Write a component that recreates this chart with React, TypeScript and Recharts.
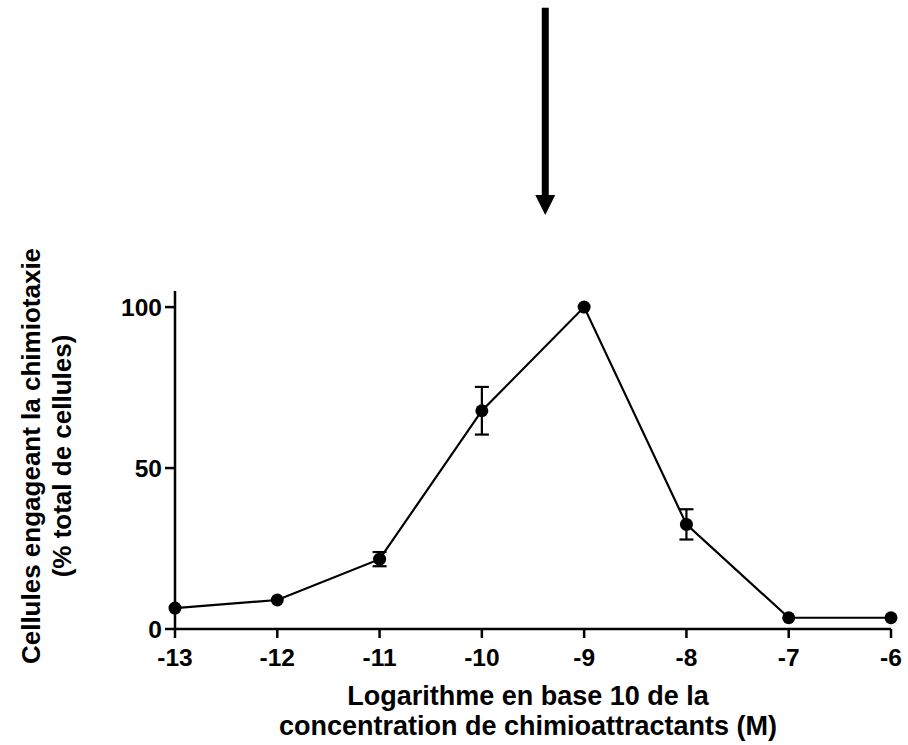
import { LineChart, Line, XAxis, YAxis, ErrorBar, ReferenceLine } from "recharts";

// log10 of chemoattractant concentration (M)
const concentrations = [-13, -12, -11, -10, -9, -8, -7, -6];
// % of cells engaging chemotaxis
const responses = [6.5, 9, 21.7, 67.8, 100, 32.5, 3.5, 3.5];
const errors: (number | null)[] = [null, null, 2.2, 7.4, null, 4.7, null, null];
const yTicks = [0, 50, 100];

const arrowX = -9.38;
const arrowTop = 193;
const arrowTip = 128.6;

const data = concentrations.map((c, i) => ({
  logC: c,
  pct: responses[i],
  err: errors[i],
}));

const FONT = "'Liberation Sans', Arial, sans-serif";

const XLabel = ({ viewBox }: any) => {
  const cx = viewBox.x + viewBox.width / 2 - 5;
  return (
    <g fontFamily={FONT} fontWeight="bold" fontSize={27} fill="#000">
      <text x={cx} y={viewBox.y + 76} textAnchor="middle">
        Logarithme en base 10 de la
      </text>
      <text x={cx} y={viewBox.y + 106} textAnchor="middle">
        concentration de chimioattractants (M)
      </text>
    </g>
  );
};

const YLabel = ({ viewBox }: any) => {
  const cy = viewBox.y + viewBox.height / 2 - 4;
  return (
    <g fontFamily={FONT} fontWeight="bold" fontSize={26} fill="#000">
      <text x={40} y={cy} textAnchor="middle" transform={`rotate(-90, 40, ${cy})`}>
        Cellules engageant la chimiotaxie
      </text>
      <text x={71} y={cy} textAnchor="middle" transform={`rotate(-90, 71, ${cy})`}>
        (% total de cellules)
      </text>
    </g>
  );
};

const Arrow = (props: any) => {
  const { x1, y1, y2 } = props;
  const head = 20;
  return (
    <g>
      <rect x={x1 - 3.5} y={y1} width={7} height={y2 - y1 - head + 1} fill="#000" />
      <polygon points={`${x1 - 10},${y2 - head} ${x1 + 10},${y2 - head} ${x1},${y2}`} fill="#000" />
    </g>
  );
};

export default function App() {
  return (
    <div style={{ position: "absolute", left: 0, top: 0, background: "#fff" }}>
      <LineChart
        width={908}
        height={745}
        data={data}
        margin={{ top: 291, right: 17, bottom: 0, left: 0 }}
      >
        <XAxis
          dataKey="logC"
          type="number"
          domain={[-13, -6]}
          ticks={concentrations}
          interval={0}
          height={116}
          stroke="#000"
          strokeWidth={2.5}
          tickSize={9}
          tickMargin={11}
          tick={{ fill: "#000", fontSize: 24.5, fontWeight: "bold", fontFamily: FONT }}
          label={<XLabel />}
        />
        <YAxis
          type="number"
          domain={[0, 105]}
          ticks={yTicks}
          width={175}
          stroke="#000"
          strokeWidth={2.5}
          tickSize={10}
          tickMargin={3}
          tick={{ fill: "#000", fontSize: 24.5, fontWeight: "bold", fontFamily: FONT }}
          label={<YLabel />}
        />
        <ReferenceLine
          segment={[
            { x: arrowX, y: arrowTop },
            { x: arrowX, y: arrowTip },
          ]}
          ifOverflow="visible"
          shape={<Arrow />}
        />
        <Line
          dataKey="pct"
          stroke="#000"
          strokeWidth={2.2}
          dot={{ r: 6.5, fill: "#000", stroke: "#000", strokeWidth: 0 }}
          activeDot={false}
          isAnimationActive={false}
        >
          <ErrorBar dataKey="err" width={7} stroke="#000" strokeWidth={2.2} direction="y" />
        </Line>
      </LineChart>
    </div>
  );
}
